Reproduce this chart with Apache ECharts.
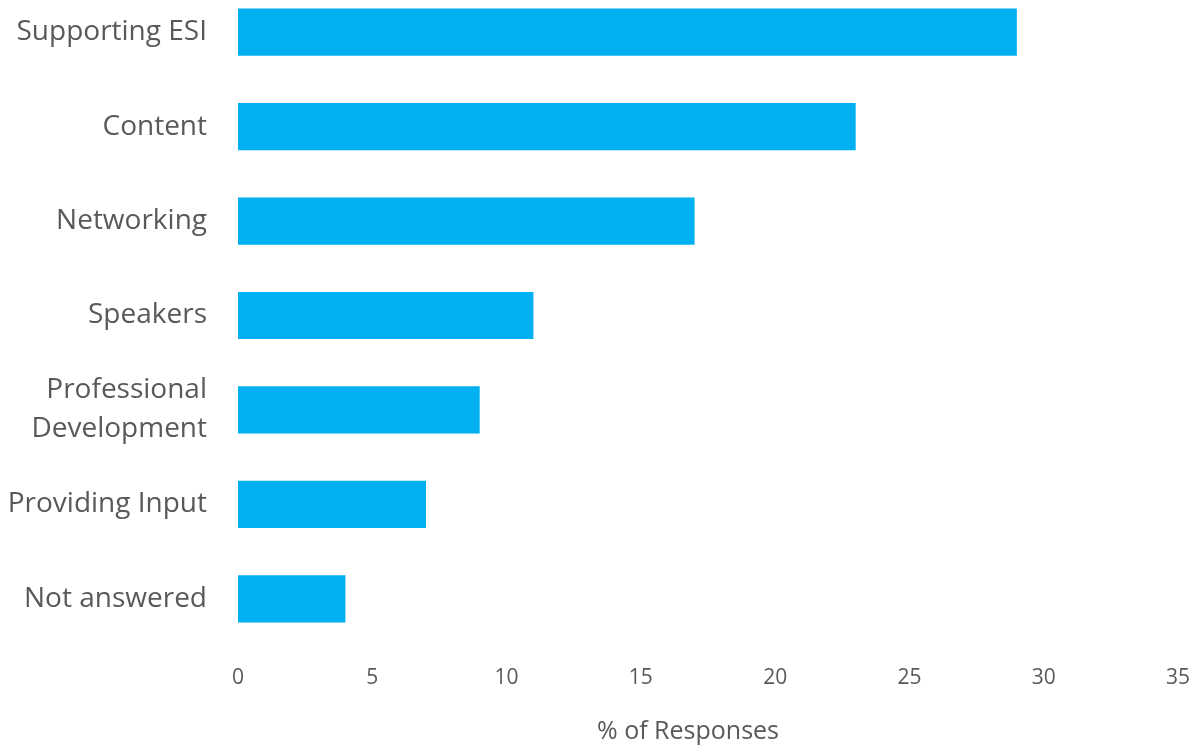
<!DOCTYPE html>
<html>
<head>
<meta charset="utf-8">
<script src="https://cdn.jsdelivr.net/npm/echarts@6/dist/echarts.min.js"></script>
<style>
  html, body { margin: 0; padding: 0; background: #ffffff; overflow: hidden; }
  /* the plot's first band starts a little above the visible page */
  #chart { width: 1200px; height: 764px; position: absolute; left: 0; top: -15px; }
</style>
</head>
<body>
<div id="chart"></div>
<script>
// Survey responses, listed from top to bottom
const categories = [
  'Supporting ESI',
  'Content',
  'Networking',
  'Speakers',
  'Professional\nDevelopment',
  'Providing Input',
  'Not answered'
];
const responses = [29, 23, 17, 11, 9, 7, 4];
const xTicks = { min: 0, max: 35, interval: 5 };

const chart = echarts.init(document.getElementById('chart'));
chart.setOption({
  backgroundColor: '#ffffff',
  animation: false,
  textStyle: { fontFamily: '"Open Sans", sans-serif', color: '#595959' },
  grid: { left: 238, right: 22, top: 0, bottom: 102, containLabel: false },
  xAxis: {
    type: 'value',
    min: xTicks.min,
    max: xTicks.max,
    interval: xTicks.interval,
    name: '% of Responses',
    nameLocation: 'middle',
    nameGap: 73,
    nameTextStyle: {
      fontSize: 25,
      color: '#595959',
      fontFamily: '"Open Sans", sans-serif',
      padding: [0, 40, 0, 0]
    },
    axisLine: { show: false },
    axisTick: { show: false },
    splitLine: { show: false },
    axisLabel: { fontSize: 21, color: '#595959', margin: 22, fontFamily: '"Open Sans", sans-serif' }
  },
  yAxis: {
    type: 'category',
    data: categories,
    inverse: true,
    axisLine: { show: false },
    axisTick: { show: false },
    splitLine: { show: false },
    axisLabel: {
      fontSize: 28,
      lineHeight: 39,
      color: '#595959',
      margin: 31,
      align: 'right',
      fontFamily: '"Open Sans", sans-serif'
    }
  },
  series: [{
    type: 'bar',
    data: responses,
    barWidth: '50%',
    itemStyle: { color: '#00B0F0' }
  }]
});
</script>
</body>
</html>
